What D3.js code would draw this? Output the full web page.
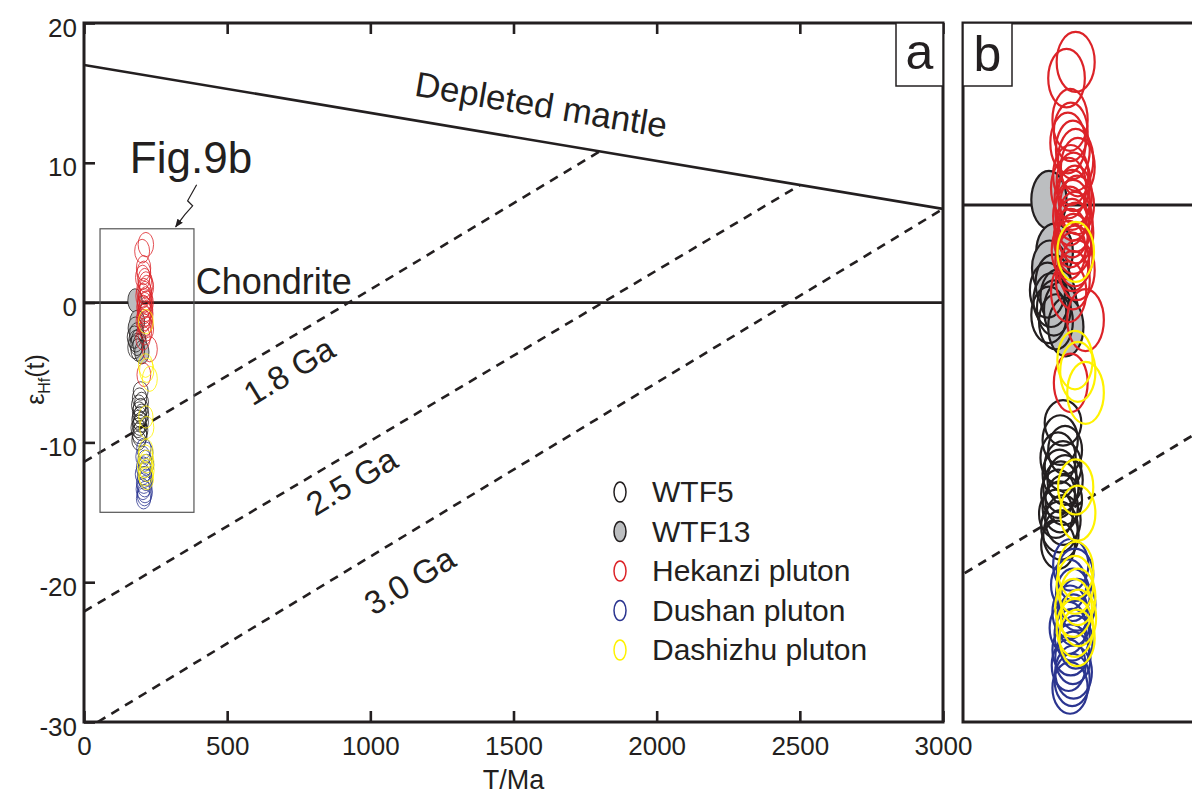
<!DOCTYPE html>
<html><head><meta charset="utf-8">
<script src="https://cdn.jsdelivr.net/npm/d3@7"></script>
<style>body{margin:0;background:#fff}svg{display:block;font-family:"Liberation Sans",Arial,sans-serif}</style>
</head><body><svg id="c" width="1192" height="796"></svg>
<script>
// ---------- data ----------
const xTicks = [0, 500, 1000, 1500, 2000, 2500, 3000];
const yTicks = [20, 10, 0, -10, -20, -30];
const depletedMantle = [[0, 17], [3000, 6.7]];
const chondrite = [[0, 0], [3000, 0]];
const crust18 = [[0, -11.4], [1800, 10.8]];
const crust25 = [[0, -22.1], [2500, 8.4]];
const crust30 = [[0, -30.6], [3000, 6.7]];
const insetAge = [56, 384];
const insetEps = [-15, 5.28];

const seriesNames = ["WTF5", "WTF13", "Hekanzi pluton", "Dushan pluton", "Dashizhu pluton"];

// WTF5 (open black)
const wtf5Age = [176, 181, 185, 178, 188, 198, 194, 201, 191, 198, 193, 201, 195, 191, 199, 194, 188, 198, 193, 195, 191];
const wtf5Eps = [-2.47, -2.76, -2.99, -3.19, -3.39, -6.32, -6.82, -7.11, -7.34, -7.57, -7.8, -7.98, -8.18, -8.38, -8.56, -8.76, -8.96, -9.14, -9.34, -9.57, -9.86];
const wtf5AgeErr = [25, 25, 24, 25, 24, 26, 25, 24, 25, 26, 24, 25, 25, 24, 26, 25, 24, 25, 26, 25, 24];
const wtf5EpsErr = [0.8, 0.78, 0.8, 0.82, 0.8, 0.66, 0.72, 0.7, 0.74, 0.72, 0.7, 0.72, 0.74, 0.7, 0.72, 0.74, 0.7, 0.72, 0.74, 0.72, 0.7];

// WTF13 (grey filled)
const wtf13Age = [178, 186, 179, 184, 191, 195, 202];
const wtf13Eps = [0.15, -1.36, -1.83, -2.26, -2.67, -3.05, -3.54];
const wtf13AgeErr = [25, 26, 25, 25, 25, 24, 25];
const wtf13EpsErr = [0.84, 0.82, 0.8, 0.82, 0.8, 0.82, 0.85];

// Hekanzi pluton (red)
const hekAge = [216, 203, 208, 209, 205, 212, 216, 219, 209, 213, 206, 215, 211, 218, 212, 208, 215, 211, 216, 209, 213, 206, 215, 211, 218, 212, 206, 230, 209];
const hekEps = [4.15, 3.68, 2.47, 2.12, 1.8, 1.6, 1.31, 1.1, 0.87, 0.67, 0.49, 0.29, 0.15, 0, -0.15, -0.32, -0.49, -0.67, -0.81, -0.96, -1.13, -1.31, -1.48, -1.65, -1.89, -2.18, -2.52, -3.34, -5.16];
const hekAgeErr = [27, 26, 25, 24, 25, 24, 25, 24, 25, 24, 25, 24, 25, 24, 25, 24, 25, 24, 25, 24, 25, 24, 25, 24, 25, 24, 25, 26, 24];
const hekEpsErr = [0.87, 0.85, 0.9, 0.85, 0.88, 0.85, 0.9, 0.85, 0.87, 0.85, 0.88, 0.85, 0.87, 0.85, 0.88, 0.85, 0.87, 0.85, 0.88, 0.85, 0.87, 0.85, 0.88, 0.85, 0.87, 0.85, 0.88, 0.9, 0.85];

// Dushan pluton (blue)
const dusAge = [209, 215, 206, 212, 218, 208, 213, 205, 211, 216, 209, 212, 206, 213, 211, 208];
const dusEps = [-10.44, -10.73, -11.02, -11.31, -11.6, -11.81, -12.04, -12.27, -12.47, -12.68, -12.91, -13.14, -13.35, -13.55, -13.78, -14.01];
const dusAgeErr = [25, 26, 25, 24, 26, 25, 24, 26, 25, 24, 26, 25, 24, 26, 25, 25];
const dusEpsErr = [0.75, 0.76, 0.74, 0.76, 0.75, 0.77, 0.74, 0.76, 0.75, 0.77, 0.74, 0.76, 0.75, 0.77, 0.76, 0.75];

// Dashizhu pluton (yellow)
const dasAge = [216, 215, 219, 230, 216, 219, 216, 215, 219, 213, 220, 215, 218];
const dasEps = [-1.36, -4.5, -4.84, -5.45, -8.18, -8.94, -10.59, -11.02, -11.37, -11.69, -11.98, -12.27, -12.56];
const dasAgeErr = [26, 25, 25, 26, 25, 25, 25, 26, 25, 26, 25, 26, 25];
const dasEpsErr = [0.87, 0.85, 0.87, 0.9, 0.8, 0.8, 0.82, 0.84, 0.82, 0.84, 0.82, 0.84, 0.82];

// ---------- drawing ----------
const ink = "#231f20";
const svg = d3.select("#c");
const A = {l: 84, r: 943, t: 23, b: 722};
const B = {l: 963, r: 1194, t: 23, b: 722};
const xA = d3.scaleLinear().domain([0, 3000]).range([A.l, A.r]);
const yA = d3.scaleLinear().domain([-30, 20]).range([A.b, A.t]);
const xB = d3.scaleLinear().domain(insetAge).range([B.l, B.r]);
const yB = d3.scaleLinear().domain(insetEps).range([B.b, B.t]);

const defs = svg.append("defs");
defs.append("clipPath").attr("id", "clipA").append("rect")
  .attr("x", A.l).attr("y", A.t).attr("width", A.r - A.l).attr("height", A.b - A.t);
defs.append("clipPath").attr("id", "clipB").append("rect")
  .attr("x", B.l).attr("y", B.t).attr("width", 300).attr("height", B.b - B.t);

const series = [
  {name: seriesNames[0], age: wtf5Age, eps: wtf5Eps, ae: wtf5AgeErr, ee: wtf5EpsErr, stroke: ink, fill: "none"},
  {name: seriesNames[1], age: wtf13Age, eps: wtf13Eps, ae: wtf13AgeErr, ee: wtf13EpsErr, stroke: ink, fill: "#bcbec0"},
  {name: seriesNames[2], age: hekAge, eps: hekEps, ae: hekAgeErr, ee: hekEpsErr, stroke: "#dc2328", fill: "none"},
  {name: seriesNames[3], age: dusAge, eps: dusEps, ae: dusAgeErr, ee: dusEpsErr, stroke: "#2b3590", fill: "none"},
  {name: seriesNames[4], age: dasAge, eps: dasEps, ae: dasAgeErr, ee: dasEpsErr, stroke: "#fff200", fill: "none"}
];
const drawOrder = [1, 0, 3, 2, 4];

const line = (xs, ys) => d3.line().x(d => xs(d[0])).y(d => ys(d[1]));

function drawRefLines(g, xs, ys, sw) {
  g.append("path").attr("d", line(xs, ys)(depletedMantle)).attr("stroke", ink).attr("stroke-width", sw).attr("fill", "none");
  g.append("path").attr("d", line(xs, ys)(chondrite)).attr("stroke", ink).attr("stroke-width", sw).attr("fill", "none");
  [crust18, crust25, crust30].forEach(c => {
    g.append("path").attr("d", line(xs, ys)(c)).attr("stroke", ink).attr("stroke-width", sw)
      .attr("stroke-dasharray", "9,7").attr("fill", "none");
  });
}

function drawEllipses(g, xs, ys, sw) {
  drawOrder.forEach(k => {
    const s = series[k];
    g.append("g").selectAll("ellipse").data(d3.range(s.age.length)).join("ellipse")
      .attr("cx", i => xs(s.age[i])).attr("cy", i => ys(s.eps[i]))
      .attr("rx", i => Math.abs(xs(s.age[i] + s.ae[i]) - xs(s.age[i])))
      .attr("ry", i => Math.abs(ys(s.eps[i] + s.ee[i]) - ys(s.eps[i])))
      .attr("fill", s.fill).attr("stroke", s.stroke).attr("stroke-width", sw);
  });
}

// ---- panel a ----
const gA = svg.append("g").attr("clip-path", "url(#clipA)");
drawRefLines(gA, xA, yA, 2.6);
drawEllipses(gA, xA, yA, 0.8);
// inset outline
gA.append("rect")
  .attr("x", xA(insetAge[0])).attr("y", yA(insetEps[1]))
  .attr("width", xA(insetAge[1]) - xA(insetAge[0])).attr("height", yA(insetEps[0]) - yA(insetEps[1]))
  .attr("fill", "none").attr("stroke", "#555").attr("stroke-width", 1.2);

// axes
const fmt = d => String(d);
const axB = svg.append("g").attr("transform", `translate(0,${A.b})`)
  .call(d3.axisBottom(xA).tickValues(xTicks).tickFormat(fmt).tickSize(-11).tickPadding(15).tickSizeOuter(0));
const axT = svg.append("g").attr("transform", `translate(0,${A.t})`)
  .call(d3.axisTop(xA).tickValues(xTicks).tickSize(-11).tickFormat("").tickSizeOuter(0));
const axL = svg.append("g").attr("transform", `translate(${A.l},0)`)
  .call(d3.axisLeft(yA).tickValues(yTicks).tickFormat(fmt).tickSize(-11).tickPadding(7).tickSizeOuter(0));
[axB, axT, axL].forEach(ax => {
  ax.select(".domain").remove();
  ax.selectAll(".tick line").attr("stroke", ink).attr("stroke-width", 2.6);
  ax.selectAll("text").attr("fill", ink).style("font-size", "26px").style("font-family", '"Liberation Sans",Arial,sans-serif');
});
axL.selectAll("text").attr("dy", "0.5em");
svg.append("rect").attr("x", A.l).attr("y", A.t).attr("width", A.r - A.l).attr("height", A.b - A.t)
  .attr("fill", "none").attr("stroke", ink).attr("stroke-width", 3);

// annotations panel a
const txt = (x, y, s, size, rot, anchor) => svg.append("text")
  .attr("transform", `translate(${x},${y}) rotate(${rot || 0})`)
  .attr("text-anchor", anchor || "start").attr("fill", ink).style("font-size", size + "px").text(s);

const ang = c => Math.atan2(yA(c[1][1]) - yA(c[0][1]), xA(c[1][0]) - xA(c[0][0])) * 180 / Math.PI;
txt(xA(1590), yA(13.3), "Depleted mantle", 35, ang(depletedMantle), "middle");
txt(xA(390), yA(0.6), "Chondrite", 36, 0, "start");
txt(xA(737), yA(-5.6), "1.8 Ga", 33, ang(crust18), "middle");
txt(xA(955), yA(-13.5), "2.5 Ga", 33, ang(crust25), "middle");
txt(xA(1158), yA(-20.6), "3.0 Ga", 33, ang(crust30), "middle");

// Fig.9b label with zigzag arrow
txt(xA(160), yA(9.3), "Fig.9b", 44, 0, "start");
const tipX = xA(320), tipY = yA(insetEps[1]) - 2;
defs.append("marker").attr("id", "arr").attr("viewBox", "0 0 10 10").attr("refX", 9).attr("refY", 5)
  .attr("markerWidth", 7).attr("markerHeight", 7).attr("orient", "auto-start-reverse")
  .append("path").attr("d", "M0,1 L10,5 L0,9 z").attr("fill", ink);
svg.append("path")
  .attr("d", `M${tipX + 21},${tipY - 42} L${tipX + 12},${tipY - 26} L${tipX + 17},${tipY - 21} L${tipX + 9},${tipY - 12} L${tipX},${tipY}`)
  .attr("fill", "none").attr("stroke", ink).attr("stroke-width", 1.2).attr("marker-end", "url(#arr)");

// legend
const legX = 620, legY0 = 492, legDy = 39.5;
const lg = svg.append("g");
series.forEach((s, i) => {
  lg.append("ellipse").attr("cx", legX).attr("cy", legY0 + i * legDy).attr("rx", 6).attr("ry", 10)
    .attr("fill", s.fill).attr("stroke", s.stroke).attr("stroke-width", 1.5);
  lg.append("text").attr("x", legX + 32).attr("y", legY0 + i * legDy + 10).attr("fill", ink)
    .style("font-size", "30px").text(s.name);
});

// panel label a
svg.append("rect").attr("x", A.r - 47).attr("y", A.t).attr("width", 47).attr("height", 63)
  .attr("fill", "#fff").attr("stroke", ink).attr("stroke-width", 1.5);
txt(A.r - 23.5, A.t + 46, "a", 50, 0, "middle");

// axis titles
const yt = svg.append("text").attr("transform", `translate(44,${yA(-5.5)}) rotate(-90)`)
  .attr("text-anchor", "middle").attr("fill", ink).style("font-size", "25px");
yt.append("tspan").text("ε");
yt.append("tspan").attr("dy", 6).style("font-size", "16px").text("Hf");
yt.append("tspan").attr("dy", -6).text("(t)");
txt(xA(1500), 789, "T/Ma", 27, 0, "middle");

// ---- panel b ----
const gB = svg.append("g").attr("clip-path", "url(#clipB)");
drawRefLines(gB, xB, yB, 2.8);
drawEllipses(gB, xB, yB, 2.2);
svg.append("rect").attr("x", B.l).attr("y", B.t).attr("width", 300).attr("height", B.b - B.t)
  .attr("fill", "none").attr("stroke", ink).attr("stroke-width", 3);
svg.append("rect").attr("x", B.l).attr("y", B.t).attr("width", 49).attr("height", 63)
  .attr("fill", "#fff").attr("stroke", ink).attr("stroke-width", 1.5);
txt(B.l + 24.5, B.t + 48, "b", 50, 0, "middle");
</script></body></html>
